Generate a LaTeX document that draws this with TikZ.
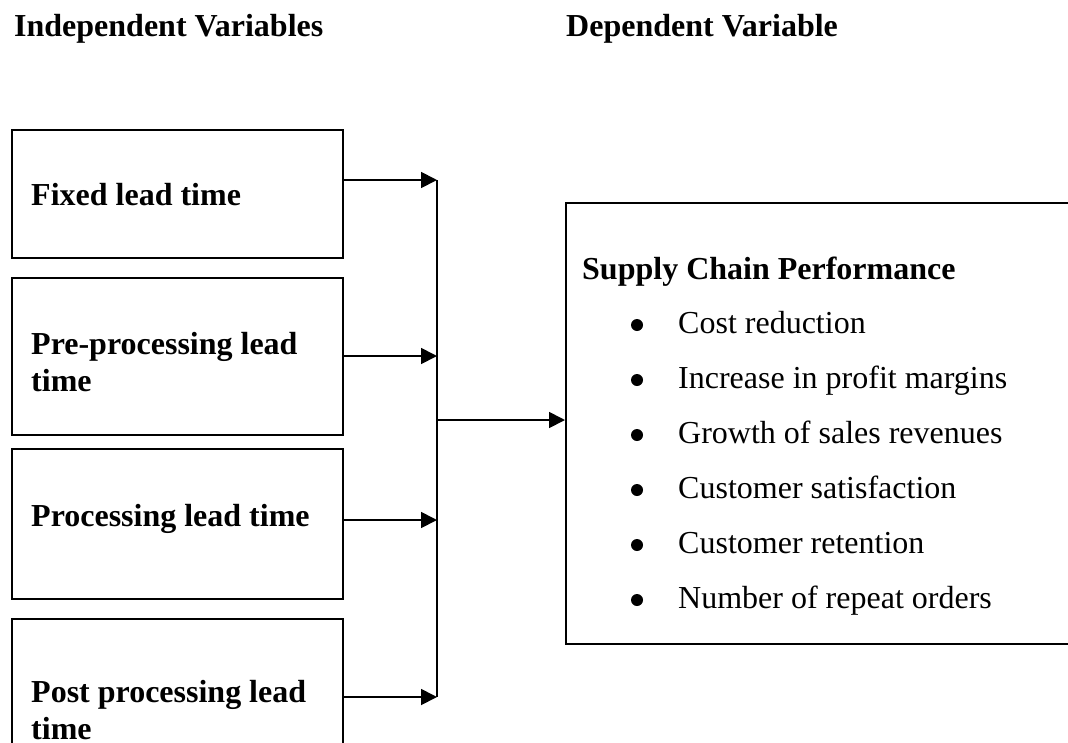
\documentclass[tikz,border=0pt]{standalone}
\usepackage{fontspec}
\setmainfont{Liberation Serif}
\usetikzlibrary{arrows.meta}
\begin{document}
\begin{tikzpicture}[x=1pt,y=-1pt,
  frame/.style={draw, line width=1.8pt, rectangle, inner sep=0pt, anchor=north west},
  head/.style={anchor=base west, inner sep=0pt, font=\fontsize{32}{37}\selectfont\bfseries},
  lbl/.style={anchor=base west, inner sep=0pt, align=left, font=\fontsize{32}{37}\selectfont\bfseries},
  item/.style={anchor=base west, inner sep=0pt, font=\fontsize{32}{37}\selectfont},
  dot/.style={circle, fill=black, inner sep=0pt, minimum size=12pt},
  link/.style={line width=1.8pt},
  arr/.style={link, -{Triangle[length=16pt,width=16pt]}}]
\useasboundingbox (0,0) rectangle (1068,742);
\clip (0,0) rectangle (1068,742);

% column headings
\node[head] (hin) at (14,36) {Independent Variables};
\node[head] (hdep) at (566,36) {Dependent Variable};

% independent variable boxes
\node[frame, minimum width=331pt, minimum height=128pt] (b1) at (11,129) {};
\node[frame, minimum width=331pt, minimum height=157pt] (b2) at (11,277) {};
\node[frame, minimum width=331pt, minimum height=150pt] (b3) at (11,448) {};
\node[frame, minimum width=331pt, minimum height=160pt] (b4) at (11,618) {};

% two-line labels are placed by the baseline of their last line
\node[lbl] (t1) at (31,205) {Fixed lead time};
\node[lbl] (t2) at (31,391) {Pre-processing lead\\time};
\node[lbl] (t3) at (31,526) {Processing lead time};
\node[lbl] (t4) at (31,739) {Post processing lead\\time};

% dependent variable box
\node[frame, minimum width=530pt, minimum height=441pt] (dv) at (565,202) {};
\node[head] (dvt) at (582,279) {Supply Chain Performance};

\foreach \n/\yy/\txt in {1/333/Cost reduction,
                         2/388/Increase in profit margins,
                         3/443/Growth of sales revenues,
                         4/498/Customer satisfaction,
                         5/553/Customer retention,
                         6/608/Number of repeat orders}{
  \node[dot] (d\n) at (637,\yy-8) {};
  \node[item] (i\n) at (678,\yy) {\txt};
}

% connectors into the collecting line
\coordinate (j1) at (437,180);
\coordinate (j2) at (437,356);
\coordinate (j3) at (437,520);
\coordinate (j4) at (437,697);
\coordinate (jm) at (437,420);

\draw[arr] (b1.east |- j1) -- (j1);
\draw[arr] (b2.east |- j2) -- (j2);
\draw[arr] (b3.east |- j3) -- (j3);
\draw[arr] (b4.east |- j4) -- (j4);
\draw[link] (j1) -- (j4);
\draw[arr] (jm) -- (dv.west |- jm);
\end{tikzpicture}
\end{document}
